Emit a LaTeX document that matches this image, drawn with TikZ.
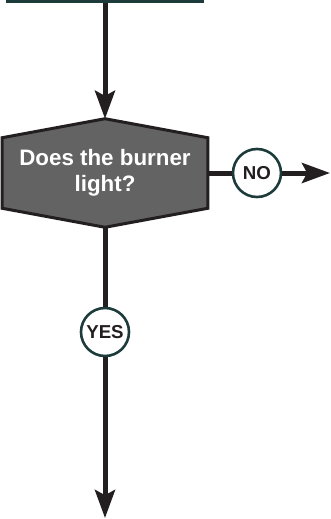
\documentclass[tikz,border=0pt]{standalone}
\usepackage{fontspec}
\setmainfont{Liberation Sans}
\usetikzlibrary{calc, positioning, arrows.meta, backgrounds}
\definecolor{slate}{HTML}{1E3B3B}
\definecolor{boxfill}{HTML}{5E7473}
\definecolor{hexgray}{HTML}{636363}
\definecolor{ink}{HTML}{231F20}
\tikzstyle{flowline}=[draw=ink, line width=1.25mm]
\tikzstyle{question}=[inner sep=0pt, minimum width=51.25mm, minimum height=27mm, text=white, align=center, font=\fontsize{15.9}{18.5}\selectfont\bfseries]
\tikzstyle{answer}=[draw=slate, fill=white, circle, line width=0.65mm, minimum size=12mm, inner sep=0pt, text=ink, font=\fontsize{13.3}{14}\selectfont\bfseries]
\tikzset{>={Stealth[length=7mm, width=5mm, inset=1.3mm]}}

\begin{document}
\begin{tikzpicture}[x=0.25mm, y=-0.25mm]
\useasboundingbox (0,0) rectangle (331,519);
% the box above, cut off by the page
\node[draw=slate, fill=boxfill, line width=0.6mm, minimum width=49mm, minimum height=6mm, inner sep=0pt] (prev) at (105,-10.5) {};
% the question
\node[question] (burner) at (105,173) {Does the burner\\light?};
\begin{scope}[on background layer]
\draw[draw=ink, fill=hexgray, line width=0.75mm, line join=miter] (burner.north) -- ($(burner.north east)+(0,19)$) -- ($(burner.south east)+(0,-19)$) -- (burner.south) -- ($(burner.south west)+(0,-19)$) -- ($(burner.north west)+(0,19)$) -- cycle;
\end{scope}
% the answers
\node[answer] (no) at (257,173) {NO};
\node[answer] (yes) at (105,332) {YES};
\coordinate (noend) at (330,173);
\coordinate (yesend) at (105,518);
% the connectors
\draw[flowline, ->] (prev) -- (burner);
\draw[flowline] (burner) -- (no);
\draw[flowline, ->] (no) -- (noend);
\draw[flowline] (burner) -- (yes);
\draw[flowline, ->] (yes) -- (yesend);
\end{tikzpicture}
\end{document}
